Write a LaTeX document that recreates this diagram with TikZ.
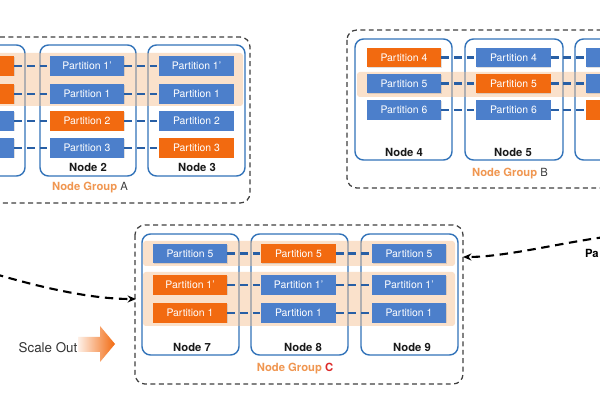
\documentclass[tikz,border=0pt]{standalone}
\usepackage{fontspec}
\setmainfont{TeX Gyre Heros}
\usetikzlibrary{arrows.meta,shadows}

\definecolor{partblue}{RGB}{76,127,203}
\definecolor{partorange}{RGB}{242,106,16}
\definecolor{nodeblue}{RGB}{50,115,185}
\definecolor{linkblue}{RGB}{40,95,165}
\definecolor{bandcolor}{RGB}{245,190,140}
\definecolor{grouptext}{RGB}{240,150,80}
\definecolor{groupred}{RGB}{220,40,40}

\tikzset{
  part/.style={rectangle, fill=partblue, text=white, inner sep=0pt,
    minimum width=1.85cm, minimum height=0.475cm,
    font=\fontsize{7.4}{8}\selectfont,
    drop shadow={shadow xshift=0.6pt, shadow yshift=-0.6pt, opacity=0.25}},
  hot/.style={part, fill=partorange},
  server/.style={draw=nodeblue, line width=1pt, rounded corners=6pt, fill=white},
  band/.style={fill=bandcolor, fill opacity=0.45, rounded corners=2pt},
  link/.style={draw=linkblue, line width=1.8pt, dash pattern=on 5.5pt off 3.5pt},
  group/.style={draw=black!75, line width=0.9pt, dash pattern=on 3.5pt off 2.5pt, rounded corners=7pt},
  nodename/.style={font=\fontsize{8}{9}\selectfont\bfseries, text=black!90},
  groupname/.style={font=\fontsize{8}{9}\selectfont, text=black!75},
  move/.style={black, line width=1.5pt, dash pattern=on 6pt off 4pt, -{Stealth[length=6pt,width=5pt]}}
}

\begin{document}
\begin{tikzpicture}[x=0.025cm, y=-0.025cm]
\clip (0,0) rectangle (600,400);
\fill[white] (0,0) rectangle (600,400);

\begin{scope}
\draw[group] (-90,37) rectangle (250,203);
\draw[server] (-72,45) rectangle (25,176);
\draw[server] (40,45) rectangle (136,176);
\draw[server] (148,45) rectangle (245,176);
\fill[band] (-80,53) rectangle (243,106);
\node[hot]  (n1r1) at (-23,66) {};
\node[hot]  (n1r2) at (-23,94) {};
\node[part] (n1r3) at (-23,121) {};
\node[part] (n1r4) at (-23,148) {};
\node[part] (n2r1) at (87,66) {Partition 1'};
\node[part] (n2r2) at (87,94) {Partition 1};
\node[hot]  (n2r3) at (87,121) {Partition 2};
\node[part] (n2r4) at (87,148) {Partition 3};
\node[part] (n3r1) at (196.5,66) {Partition 1'};
\node[part] (n3r2) at (196.5,94) {Partition 1};
\node[part] (n3r3) at (196.5,121) {Partition 2};
\node[hot]  (n3r4) at (196.5,148) {Partition 3};
\draw[link] (n1r1) -- (n2r1) (n2r1) -- (n3r1);
\draw[link] (n1r2) -- (n2r2) (n2r2) -- (n3r2);
\draw[link] (n1r3) -- (n2r3) (n2r3) -- (n3r3);
\draw[link] (n1r4) -- (n2r4) (n2r4) -- (n3r4);
\node[nodename] (node2) at (88,167) {Node 2};
\node[nodename] (node3) at (197,167) {Node 3};
\node[groupname] (groupA) at (90,188) {\textcolor{grouptext}{\bfseries Node Group} A};
\end{scope}

\begin{scope}
\draw[group] (347,30) rectangle (720,188);
\draw[server] (355,39) rectangle (452,160);
\draw[server] (465,39) rectangle (563,160);
\draw[server] (575,39) rectangle (672,160);
\fill[band] (357,72) rectangle (700,97);
\node[hot]  (n4r1) at (404,57.5) {Partition 4};
\node[part] (n4r2) at (404,83.5) {Partition 5};
\node[part] (n4r3) at (404,110) {Partition 6};
\node[part] (n5r1) at (513.5,57.5) {Partition 4};
\node[hot]  (n5r2) at (513.5,83.5) {Partition 5};
\node[part] (n5r3) at (513.5,110) {Partition 6};
\node[part] (n6r1) at (623.5,57.5) {};
\node[part] (n6r2) at (623.5,83.5) {};
\node[hot]  (n6r3) at (623.5,110) {};
\draw[link] (n4r1) -- (n5r1) (n5r1) -- (n6r1);
\draw[link] (n4r2) -- (n5r2) (n5r2) -- (n6r2);
\draw[link] (n4r3) -- (n5r3) (n5r3) -- (n6r3);
\node[nodename] (node4) at (404,152) {Node 4};
\node[nodename] (node5) at (513,152) {Node 5};
\node[groupname] (groupB) at (510,174) {\textcolor{grouptext}{\bfseries Node Group} B};
\end{scope}

\begin{scope}
\draw[group] (135,225) rectangle (463,384);
\draw[server] (142,234) rectangle (239,355);
\draw[server] (251,234) rectangle (348,355);
\draw[server] (361,234) rectangle (458,355);
\fill[band] (143,241) rectangle (455,266);
\fill[band] (143,272) rectangle (455,326);
\node[part] (n7r1) at (190,253.5) {Partition 5};
\node[hot]  (n7r2) at (190,285) {Partition 1'};
\node[hot]  (n7r3) at (190,313) {Partition 1};
\node[hot]  (n8r1) at (298.5,253.5) {Partition 5};
\node[part] (n8r2) at (298.5,285) {Partition 1'};
\node[part] (n8r3) at (298.5,313) {Partition 1};
\node[part] (n9r1) at (409,253.5) {Partition 5};
\node[part] (n9r2) at (409,285) {Partition 1'};
\node[part] (n9r3) at (409,313) {Partition 1};
\draw[link] (n7r1) -- (n8r1) (n8r1) -- (n9r1);
\draw[link] (n7r2) -- (n8r2) (n8r2) -- (n9r2);
\draw[link] (n7r3) -- (n8r3) (n8r3) -- (n9r3);
\node[nodename] (node7) at (192,347) {Node 7};
\node[nodename] (node8) at (303,347) {Node 8};
\node[nodename] (node9) at (412,347) {Node 9};
\node[groupname] (groupC) at (295,369) {\textcolor{grouptext}{\bfseries Node Group} \textcolor{groupred}{\bfseries C}};
\coordinate (inL) at (136,299);
\coordinate (inR) at (463,257);
\end{scope}

\coordinate (fromL) at (-5,274);
\coordinate (fromR) at (605,237);
\draw[move] (fromL) .. controls (50,290) and (95,299) .. (inL);
\draw[move] (fromR) .. controls (560,243) and (505,257) .. (inR);
\node[font=\fontsize{8}{9}\selectfont\bfseries, anchor=east, inner sep=0pt] (hint) at (599,253) {Pa};

\node[font=\fontsize{9.5}{11}\selectfont, text=black!80] (scaleout) at (48,348) {Scale Out};
\shade[left color=partorange!10, right color=partorange]
  (78,337) -- (100,337) -- (100,326) -- (115,344) -- (100,362) -- (100,352) -- (78,352) -- cycle;

\end{tikzpicture}
\end{document}
